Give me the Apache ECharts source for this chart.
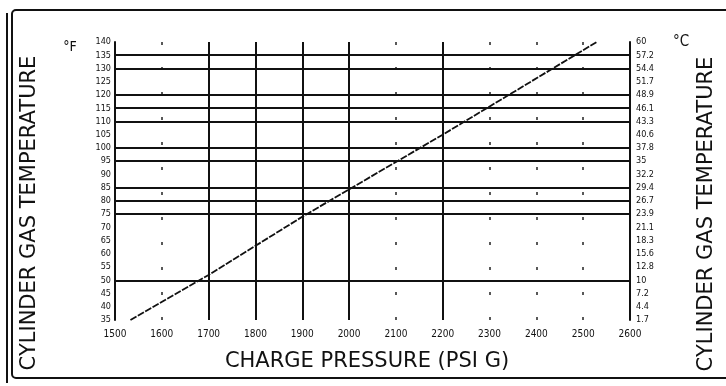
<!DOCTYPE html>
<html>
<head>
<meta charset="utf-8">
<script src="https://cdn.jsdelivr.net/npm/echarts@6/dist/echarts.min.js"></script>
<style>html,body{margin:0;padding:0;background:#fff}#c{width:726px;height:386px}</style>
</head>
<body>
<div id="c"></div>
<script>
// ---- data ----
const pressureTicks = [1500, 1600, 1700, 1800, 1900, 2000, 2100, 2200, 2300, 2400, 2500, 2600];
const tempTicksF = [140, 135, 130, 125, 120, 115, 110, 105, 100, 95, 90, 85, 80, 75, 70, 65, 60, 55, 50, 45, 40, 35];
const solidPressureLines = [1700, 1800, 1900, 2000, 2200];
const dottedPressureLines = [1600, 2100, 2300, 2400, 2500];
const solidTempLines = [135, 130, 120, 115, 110, 100, 95, 85, 80, 75, 50];
const chargePressure = [1533, 1700, 1900, 2200, 2529];
const gasTempF = [35, 52, 74, 105, 140];

const FONT = "'DejaVu Sans Condensed', 'Liberation Sans Narrow', 'DejaVu Sans', sans-serif";
const TFONT = "'DejaVu Sans', sans-serif";
const INK = '#111';

const chart = echarts.init(document.getElementById('c'));
const fToC = f => { const c = (f - 32) * 5 / 9; return Math.abs(c - Math.round(c)) < 0.05 ? String(Math.round(c)) : c.toFixed(1); };

chart.setOption({
  animation: false,
  backgroundColor: '#fff',
  grid: { left: 115, right: 96, top: 42, bottom: 66, containLabel: false, outerBoundsMode: 'none' },
  xAxis: {
    type: 'value', min: pressureTicks[0], max: pressureTicks[pressureTicks.length - 1], interval: 100,
    axisLine: { show: false }, axisTick: { show: false }, splitLine: { show: false },
    axisLabel: { color: INK, fontSize: 10, fontFamily: FONT, margin: 9, showMinLabel: true, showMaxLabel: true, formatter: v => String(v) }
  },
  yAxis: [
    {
      type: 'value', min: tempTicksF[tempTicksF.length - 1], max: tempTicksF[0], interval: 5, position: 'left',
      axisLine: { show: true, lineStyle: { color: INK, width: 2 } }, axisTick: { show: false }, splitLine: { show: false },
      axisLabel: { color: INK, fontSize: 9, fontFamily: FONT, margin: 4 }
    },
    {
      type: 'value', min: tempTicksF[tempTicksF.length - 1], max: tempTicksF[0], interval: 5, position: 'right',
      axisLine: { show: true, lineStyle: { color: INK, width: 2 } }, axisTick: { show: false }, splitLine: { show: false },
      axisLabel: { color: INK, fontSize: 9, fontFamily: FONT, margin: 6, formatter: v => fToC(v) }
    }
  ],
  series: [
    {
      type: 'line', yAxisIndex: 0, symbol: 'none', silent: true,
      data: chargePressure.map((p, i) => [p, gasTempF[i]]),
      lineStyle: { color: INK, width: 1.8, type: [7, 1.5] },
      markLine: {
        silent: true, symbol: 'none', label: { show: false },
        data: [
          ...solidPressureLines.map(v => ({ xAxis: v, lineStyle: { color: INK, width: 2, type: 'solid' } })),
          ...dottedPressureLines.map(v => ({ xAxis: v, lineStyle: { color: '#222', width: 1.5, type: [3, 22] } })),
          ...solidTempLines.map(v => ({ yAxis: v, lineStyle: { color: INK, width: 2, type: 'solid' } }))
        ]
      }
    }
  ],
  graphic: [
    { type: 'line', shape: { x1: 7, y1: 13, x2: 7, y2: 383 }, style: { stroke: INK, lineWidth: 2 } },
    { type: 'rect', shape: { x: 12, y: 10, width: 740, height: 368, r: 4 }, style: { fill: 'none', stroke: INK, lineWidth: 2 } },
    { type: 'text', x: 30, y: 213, rotation: Math.PI / 2, style: { text: 'CYLINDER GAS TEMPERATURE', fill: INK, font: '21px ' + TFONT, textAlign: 'center', textVerticalAlign: 'middle' } },
    { type: 'text', x: 707, y: 214, rotation: Math.PI / 2, style: { text: 'CYLINDER GAS TEMPERATURE', fill: INK, font: '21px ' + TFONT, textAlign: 'center', textVerticalAlign: 'middle' } },
    { type: 'text', x: 367, y: 362, style: { text: 'CHARGE PRESSURE (PSI G)', fill: INK, font: '21px ' + TFONT, textAlign: 'center', textVerticalAlign: 'middle' } },
    { type: 'text', x: 70, y: 47, style: { text: '°F', fill: INK, font: '14px ' + FONT, textAlign: 'center', textVerticalAlign: 'middle' } },
    { type: 'text', x: 681, y: 42, style: { text: '°C', fill: INK, font: '15px ' + FONT, textAlign: 'center', textVerticalAlign: 'middle' } }
  ]
});
</script>
</body>
</html>
